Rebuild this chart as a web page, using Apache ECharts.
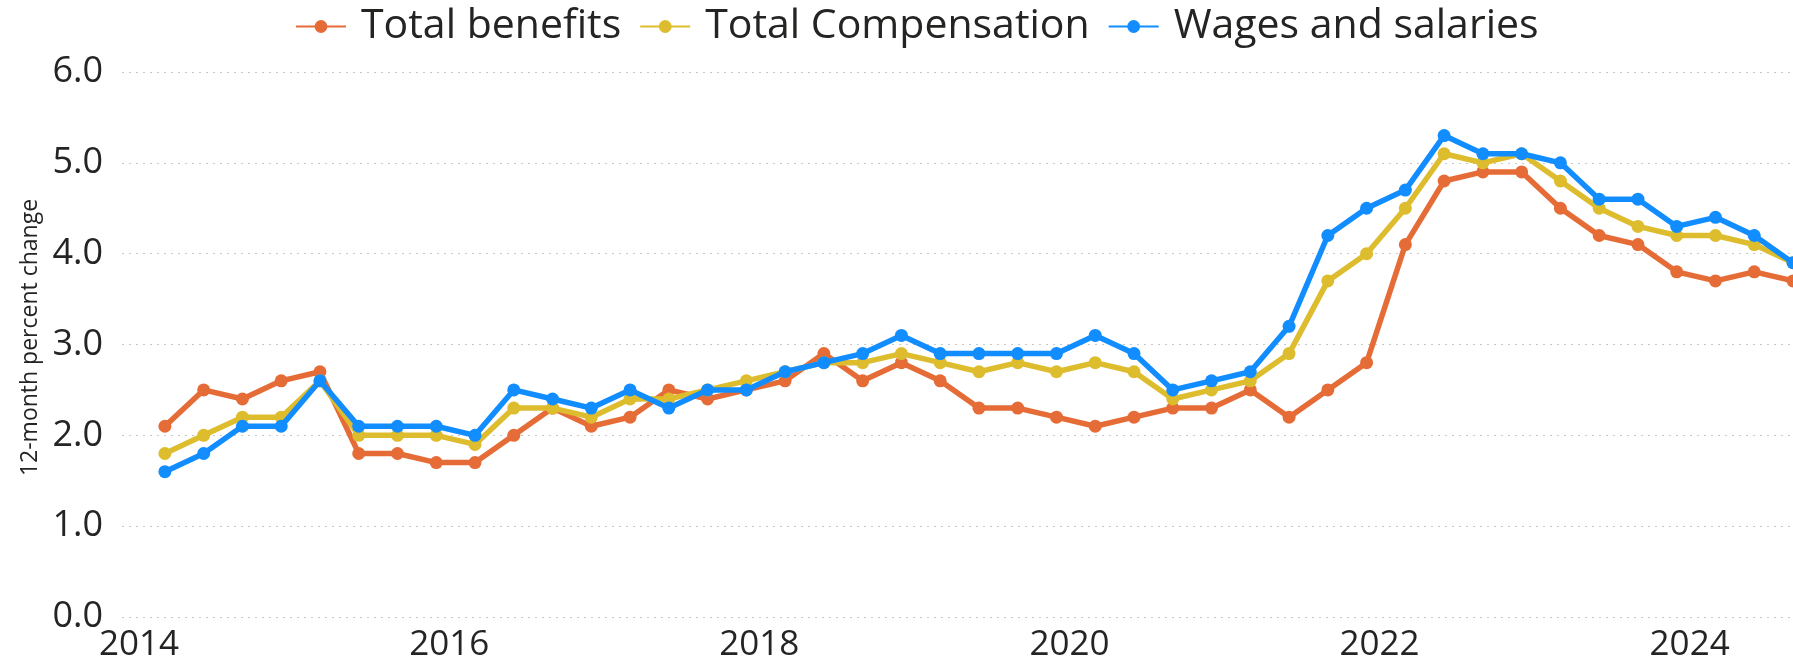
<!DOCTYPE html>
<html>
<head>
<meta charset="utf-8">
<title>Employment Cost Index</title>
<script src="https://cdn.jsdelivr.net/npm/echarts@6.0.0/dist/echarts.min.js"></script>
<style>
  html, body { margin: 0; padding: 0; background: #ffffff; }
  #chart { width: 1793px; height: 663px; }
</style>
</head>
<body>
<div id="chart"></div>
<script>
// Quarterly observations (reference month = last month of the quarter)
const quarters = [
  '2014 Q1','2014 Q2','2014 Q3','2014 Q4',
  '2015 Q1','2015 Q2','2015 Q3','2015 Q4',
  '2016 Q1','2016 Q2','2016 Q3','2016 Q4',
  '2017 Q1','2017 Q2','2017 Q3','2017 Q4',
  '2018 Q1','2018 Q2','2018 Q3','2018 Q4',
  '2019 Q1','2019 Q2','2019 Q3','2019 Q4',
  '2020 Q1','2020 Q2','2020 Q3','2020 Q4',
  '2021 Q1','2021 Q2','2021 Q3','2021 Q4',
  '2022 Q1','2022 Q2','2022 Q3','2022 Q4',
  '2023 Q1','2023 Q2','2023 Q3','2023 Q4',
  '2024 Q1','2024 Q2','2024 Q3'
];

// 12-month percent change
const totalBenefits = [
  2.1, 2.5, 2.4, 2.6,
  2.7, 1.8, 1.8, 1.7,
  1.7, 2.0, 2.3, 2.1,
  2.2, 2.5, 2.4, 2.5,
  2.6, 2.9, 2.6, 2.8,
  2.6, 2.3, 2.3, 2.2,
  2.1, 2.2, 2.3, 2.3,
  2.5, 2.2, 2.5, 2.8,
  4.1, 4.8, 4.9, 4.9,
  4.5, 4.2, 4.1, 3.8,
  3.7, 3.8, 3.7
];
const totalCompensation = [
  1.8, 2.0, 2.2, 2.2,
  2.6, 2.0, 2.0, 2.0,
  1.9, 2.3, 2.3, 2.2,
  2.4, 2.4, 2.5, 2.6,
  2.7, 2.8, 2.8, 2.9,
  2.8, 2.7, 2.8, 2.7,
  2.8, 2.7, 2.4, 2.5,
  2.6, 2.9, 3.7, 4.0,
  4.5, 5.1, 5.0, 5.1,
  4.8, 4.5, 4.3, 4.2,
  4.2, 4.1, 3.9
];
const wagesSalaries = [
  1.6, 1.8, 2.1, 2.1,
  2.6, 2.1, 2.1, 2.1,
  2.0, 2.5, 2.4, 2.3,
  2.5, 2.3, 2.5, 2.5,
  2.7, 2.8, 2.9, 3.1,
  2.9, 2.9, 2.9, 2.9,
  3.1, 2.9, 2.5, 2.6,
  2.7, 3.2, 4.2, 4.5,
  4.7, 5.3, 5.1, 5.1,
  5.0, 4.6, 4.6, 4.3,
  4.4, 4.2, 3.9
];

const yearTicks = [2014, 2016, 2018, 2020, 2022, 2024];
const seriesNames = ['Total benefits', 'Total Compensation', 'Wages and salaries'];
const seriesColors = ['#E66C37', '#DDBD2E', '#118DFF'];

// Quarter label -> fractional year at the first day of the quarter's last month
function quarterToYear(label) {
  const [y, q] = label.split(' Q');
  return Number(y) + (Number(q) * 3 - 1) / 12;
}
const xs = quarters.map(quarterToYear);
const pairs = vals => vals.map((v, i) => [xs[i], v]);

const FONT = '"Open Sans", "Noto Sans", sans-serif';
const TEXT = '#252423';

const chart = echarts.init(document.getElementById('chart'), null, { renderer: 'canvas' });

function lineSeries(name, color, values, z) {
  return {
    name: name,
    type: 'line',
    data: pairs(values),
    color: color,
    z: z,
    symbol: 'circle',
    symbolSize: 13,
    lineStyle: { width: 5.5, color: color },
    itemStyle: { color: color },
    emphasis: { disabled: true },
    clip: false,
    animation: false
  };
}

chart.setOption({
  backgroundColor: '#ffffff',
  animation: false,
  legend: {
    top: 1,
    left: 290,
    itemWidth: 50,
    itemHeight: 16,
    itemGap: 18,
    data: seriesNames,
    textStyle: {
      fontFamily: FONT,
      fontSize: 41,
      color: TEXT,
      padding: [0, 0, 0, 10]
    }
  },
  grid: {
    left: 122,
    right: 0,
    top: 72,
    bottom: 41,
    containLabel: false
  },
  xAxis: {
    type: 'value',
    min: 2013.89,
    max: quarterToYear(quarters[quarters.length - 1]),
    axisLine: { show: false },
    axisTick: { show: false },
    splitLine: { show: false },
    axisLabel: {
      customValues: yearTicks,
      formatter: v => String(Math.round(v)),
      fontFamily: FONT,
      fontSize: 35,
      color: TEXT,
      margin: 11
    }
  },
  yAxis: {
    type: 'value',
    min: 0,
    max: 6,
    interval: 1,
    name: '12-month percent change',
    nameLocation: 'middle',
    nameGap: 80,
    nameTextStyle: {
      fontFamily: FONT,
      fontSize: 23,
      color: TEXT,
      padding: [0, 0, 0, 14]
    },
    axisLine: { show: false },
    axisTick: { show: false },
    axisLabel: {
      formatter: v => v.toFixed(1),
      fontFamily: FONT,
      fontSize: 36,
      color: TEXT,
      margin: 19
    },
    splitLine: {
      show: true,
      lineStyle: { color: '#c8c8c8', type: [2, 5], width: 1.2 }
    }
  },
  series: [
    lineSeries(seriesNames[0], seriesColors[0], totalBenefits, 2),
    lineSeries(seriesNames[1], seriesColors[1], totalCompensation, 3),
    lineSeries(seriesNames[2], seriesColors[2], wagesSalaries, 4)
  ]
});
</script>
</body>
</html>
